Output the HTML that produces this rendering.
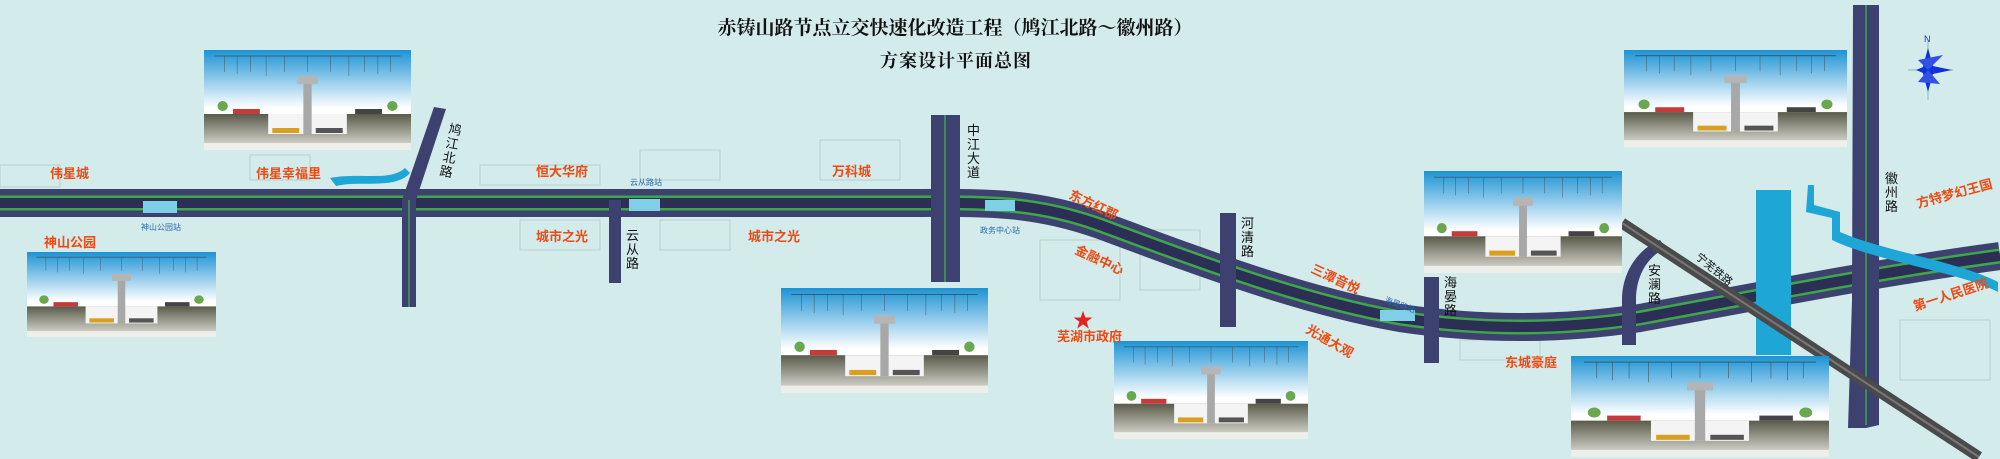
<!DOCTYPE html>
<html><head><meta charset="utf-8"><style>
html,body{margin:0;padding:0;background:#d3ebeb;}
svg{display:block}
text{font-family:"Liberation Sans","Noto Sans CJK SC",sans-serif;}
.lb{fill:#ee4a12;font-size:13px;font-weight:bold;}
.rn{fill:#111;font-size:13px;}
.st{fill:#2a6aa8;font-size:8px;}
</style></head><body>
<svg width="2000" height="459" viewBox="0 0 2000 459" xmlns="http://www.w3.org/2000/svg">
<defs>
<linearGradient id="sky" x1="0" y1="0" x2="0" y2="1">
<stop offset="0" stop-color="#1d93d4"/><stop offset="0.58" stop-color="#ffffff"/><stop offset="1" stop-color="#ffffff"/></linearGradient>
<linearGradient id="gnd" x1="0" y1="0" x2="0" y2="1">
<stop offset="0" stop-color="#5a5b4a"/><stop offset="1" stop-color="#cfcfc6"/></linearGradient>
<symbol id="pan" viewBox="0 0 200 100" preserveAspectRatio="none">
<rect width="200" height="100" fill="url(#sky)"/>
<line x1="10" y1="6" x2="190" y2="6" stroke="#333" stroke-width="0.6"/>
<g stroke="#444" stroke-width="0.4">
<line x1="20" y1="6" x2="20" y2="22"/><line x1="32" y1="6" x2="32" y2="24"/><line x1="45" y1="6" x2="45" y2="22"/><line x1="60" y1="6" x2="60" y2="26"/><line x1="78" y1="6" x2="78" y2="22"/><line x1="100" y1="6" x2="100" y2="22"/><line x1="122" y1="6" x2="122" y2="22"/><line x1="140" y1="6" x2="140" y2="26"/><line x1="155" y1="6" x2="155" y2="22"/><line x1="168" y1="6" x2="168" y2="24"/><line x1="180" y1="6" x2="180" y2="22"/></g>
<rect x="0" y="64" width="200" height="30" fill="url(#gnd)"/>
<rect x="0" y="93" width="200" height="7" fill="#eeeeea"/>
<rect x="62" y="64" width="76" height="20" fill="#f4f4f4"/>
<rect x="96" y="28" width="8" height="56" fill="#a8a8a8"/>
<rect x="90" y="26" width="20" height="8" fill="#b5b5b5"/>
<circle cx="18" cy="56" r="5" fill="#6aa84f"/><circle cx="182" cy="56" r="5" fill="#6aa84f"/>
<rect x="28" y="59" width="26" height="5" fill="#c83a3a"/><rect x="146" y="59" width="26" height="5" fill="#444"/>
<rect x="66" y="78" width="26" height="5" fill="#d8a020"/><rect x="108" y="78" width="26" height="5" fill="#555"/>
</symbol>
</defs>
<g fill="none" stroke="#b9cfd0" stroke-width="1">
<rect x="0" y="165" width="60" height="22"/><rect x="250" y="155" width="60" height="25"/><rect x="480" y="165" width="120" height="20"/><rect x="640" y="150" width="80" height="30"/><rect x="820" y="140" width="80" height="40"/>
<rect x="520" y="220" width="80" height="30"/><rect x="660" y="220" width="70" height="30"/><rect x="1040" y="240" width="80" height="60"/><rect x="1140" y="230" width="60" height="60"/><rect x="1460" y="340" width="80" height="20"/><rect x="1900" y="320" width="90" height="60"/></g>
<g fill="none" stroke-linejoin="round">
<path d="M0,203 L900,203 C980,203 1030,200 1100,225 C1200,262 1300,300 1400,318 C1480,330 1560,330 1640,318 C1760,296 1880,272 2000,256" stroke="#3d4170" stroke-width="28"/>
<path d="M0,203 L900,203 C980,203 1030,200 1100,225 C1200,262 1300,300 1400,318 C1480,330 1560,330 1640,318 C1760,296 1880,272 2000,256" stroke="#3fa64a" stroke-width="15"/>
<path d="M0,203 L900,203 C980,203 1030,200 1100,225 C1200,262 1300,300 1400,318 C1480,330 1560,330 1640,318 C1760,296 1880,272 2000,256" stroke="#2c2f55" stroke-width="10"/>
</g>
<g fill="#3d4170">
<polygon points="434,107 446,109 416,200 416,307 402,307 402,200"/>
<rect x="609" y="200" width="12" height="83"/>
<rect x="931" y="115" width="29" height="167"/>
<rect x="1220" y="213" width="16" height="114"/>
<rect x="1424" y="277" width="15" height="86"/>
<path d="M1622,345 L1622,300 C1622,270 1640,248 1660,240 L1666,248 C1648,256 1636,275 1636,300 L1636,345 Z"/>
<polygon points="1853,5 1879,5 1879,425 1866,428 1848,428 1852,300"/>
</g>
<g stroke="#3fa64a" stroke-width="1.5"><line x1="945" y1="115" x2="945" y2="282"/><line x1="1866" y1="5" x2="1866" y2="425"/><line x1="409" y1="200" x2="409" y2="307"/></g>
<rect x="1756" y="190" width="35" height="165" fill="#1ea6d6"/>
<path d="M1808,185 L1814,185 L1814,205 L1840,212 L1840,232 C1880,250 1960,262 1998,282 L1998,292 C1960,272 1878,262 1832,240 L1832,218 L1806,212 Z" fill="#1ea6d6"/>
<path d="M330,178 C360,172 390,182 405,168 L410,173 C395,190 360,180 336,186 Z" fill="#1ea6d6"/>
<line x1="1622" y1="223" x2="1979" y2="457" stroke="#4a4a4a" stroke-width="11"/>
<line x1="1622" y1="223" x2="1979" y2="457" stroke="#777" stroke-width="2"/>
<g fill="#7fd0e6"><rect x="143" y="201" width="34" height="12"/><rect x="629" y="199" width="31" height="12"/><rect x="985" y="200" width="30" height="11"/><rect x="1380" y="310" width="35" height="11"/></g>
<use href="#pan" x="204" y="50" width="207" height="100"/>
<use href="#pan" x="27" y="252" width="189" height="85"/>
<use href="#pan" x="781" y="288" width="207" height="105"/>
<use href="#pan" x="1114" y="341" width="194" height="98"/>
<use href="#pan" x="1424" y="171" width="198" height="102"/>
<use href="#pan" x="1624" y="50" width="223" height="97"/>
<use href="#pan" x="1571" y="356" width="258" height="101"/>
<text x="955" y="34" text-anchor="middle" style="font-family:'Liberation Serif','Noto Serif CJK SC',serif;font-size:19px;font-weight:bold;fill:#111">赤铸山路节点立交快速化改造工程（鸠江北路～徽州路）</text>
<text x="956" y="67" text-anchor="middle" style="font-family:'Liberation Serif','Noto Serif CJK SC',serif;font-size:18px;font-weight:bold;fill:#111;letter-spacing:1px">方案设计平面总图</text>
<text class="lb" x="50" y="178">伟星城</text>
<text class="lb" x="256" y="178">伟星幸福里</text>
<text class="lb" x="536" y="176">恒大华府</text>
<text class="lb" x="832" y="176">万科城</text>
<text class="lb" x="44" y="247">神山公园</text>
<text class="lb" x="536" y="241">城市之光</text>
<text class="lb" x="748" y="241">城市之光</text>
<text class="lb" x="1068" y="198" transform="rotate(25 1068 198)">东方红郡</text>
<text class="lb" x="1074" y="253" transform="rotate(25 1074 253)">金融中心</text>
<text class="lb" x="1310" y="272" transform="rotate(25 1310 272)">三潭音悦</text>
<text class="lb" x="1305" y="332" transform="rotate(30 1305 332)">光通大观</text>
<text class="lb" x="1505" y="367">东城豪庭</text>
<text class="lb" x="1057" y="341">芜湖市政府</text>
<text x="1083" y="327" text-anchor="middle" style="fill:#e82020;font-size:20px">★</text>
<text class="lb" x="1918" y="208" transform="rotate(-15 1918 208)">方特梦幻王国</text>
<text class="lb" x="1915" y="311" transform="rotate(-18 1915 311)">第一人民医院</text>
<g class="rn">
<text x="448" y="133" transform="rotate(10 448 133)">鸠</text><text x="445" y="147" transform="rotate(10 445 147)">江</text><text x="442" y="161" transform="rotate(10 442 161)">北</text><text x="439" y="175" transform="rotate(10 439 175)">路</text>
<text x="626" y="240">云</text><text x="626" y="254">从</text><text x="626" y="268">路</text>
<text x="967" y="135">中</text><text x="967" y="149">江</text><text x="967" y="163">大</text><text x="967" y="177">道</text>
<text x="1241" y="228">河</text><text x="1241" y="242">清</text><text x="1241" y="256">路</text>
<text x="1444" y="287">海</text><text x="1444" y="301">晏</text><text x="1444" y="315">路</text>
<text x="1648" y="275">安</text><text x="1648" y="289">澜</text><text x="1648" y="303">路</text>
<text x="1885" y="183">徽</text><text x="1885" y="197">州</text><text x="1885" y="211">路</text>
<text x="1695" y="258" transform="rotate(40 1695 258)" style="font-size:11px">宁芜铁路</text>
</g>
<text class="st" x="141" y="230">神山公园站</text>
<text class="st" x="630" y="185">云从路站</text>
<text class="st" x="980" y="233">政务中心站</text>
<text class="st" x="1384" y="302" transform="rotate(20 1384 302)">海晏路站</text>
<g transform="translate(1928,70)">
<line x1="0" y1="-30" x2="0" y2="30" stroke="#6aa" stroke-width="0.7"/><line x1="-20" y1="0" x2="25" y2="0" stroke="#6aa" stroke-width="0.7"/>
<polygon points="0,-22 6,0 0,22 -6,0" fill="#1030d8"/><polygon points="-12,0 0,-5 24,0 0,5" fill="#1030d8"/>
<polygon points="-10,-10 0,0 15,-15" fill="#3050e8"/><polygon points="-10,12 0,0 12,14" fill="#3050e8"/>
<text x="-4" y="-28" style="font-size:9px;fill:#1030d8">N</text></g>
</svg>
</body></html>
